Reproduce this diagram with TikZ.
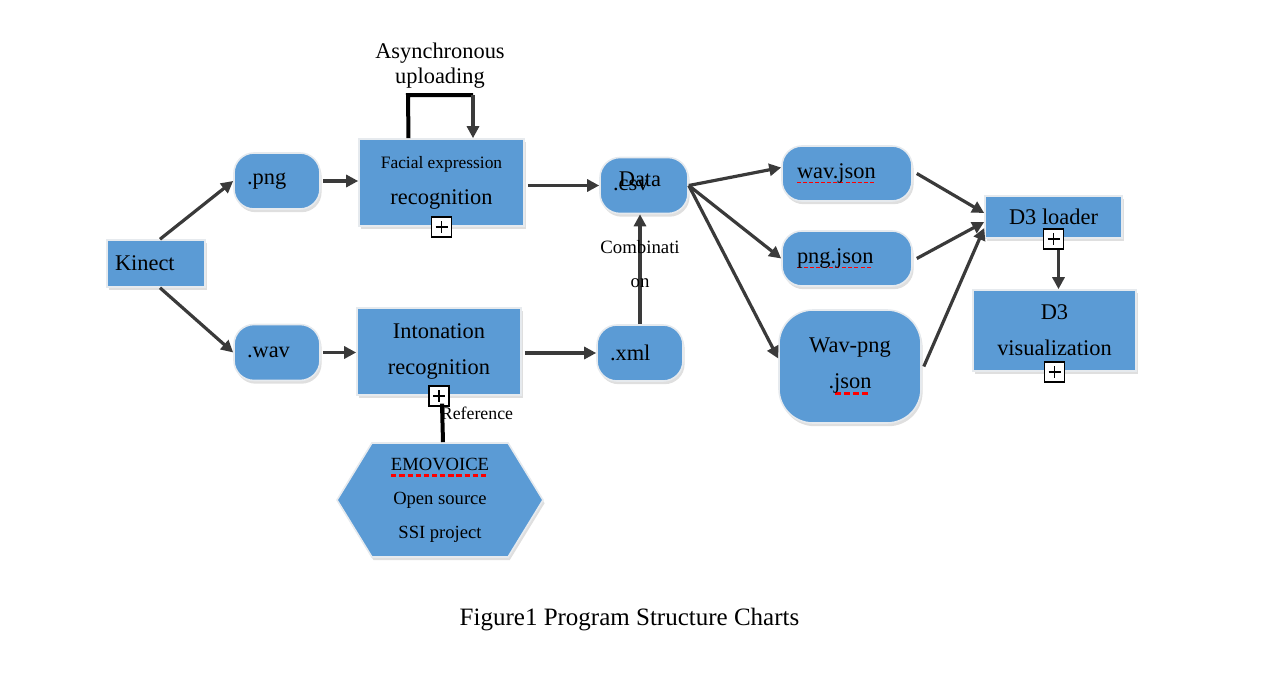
\documentclass[tikz,border=0pt]{standalone}
\usepackage{fontspec}
\setmainfont{Liberation Serif}
\usepackage{tikz}
\usetikzlibrary{arrows.meta,shapes.symbols,shadows,positioning}
\usepackage{xcolor}

\definecolor{boxblue}{HTML}{5B9BD5}
\definecolor{linegray}{HTML}{3A3A3A}
\definecolor{edgewhite}{HTML}{E6EAEE}

% red spell-check marks
\newsavebox\spellbox
\newcommand\spellthin[1]{\sbox\spellbox{#1}\rlap{\color{red}\hbox to\wd\spellbox{\xleaders\hbox{\rule[-2.4pt]{2pt}{0.9pt}\kern1pt}\hfill}}\usebox\spellbox}
\newcommand\spellthick[1]{\sbox\spellbox{#1}\rlap{\color{red}\hbox to\wd\spellbox{\xleaders\hbox{\rule[-3.2pt]{2.6pt}{1.4pt}\kern1.3pt}\hfill}}\usebox\spellbox}

\tikzset{
	blockbox/.style={rectangle, fill=boxblue, draw=edgewhite, line width=0.8pt,
		drop shadow={opacity=0.25, shadow xshift=0.8pt, shadow yshift=-1.6pt},
		font=\fontsize{11.2}{18}\selectfont, align=center, inner sep=0pt},
	pillbox/.style={blockbox, rounded corners=10pt, minimum height=28pt, align=left},
	hexbox/.style={blockbox, signal, signal to=east and west, signal pointer angle=117,
		minimum width=103pt, minimum height=57pt, font=\fontsize{9.3}{17}\selectfont},
	expander/.style={draw=black, fill=white, line width=0.8pt, minimum size=10pt, inner sep=0pt,
		path picture={\draw[line width=0.9pt]
			([xshift=2pt]path picture bounding box.west) -- ([xshift=-2pt]path picture bounding box.east)
			([yshift=2pt]path picture bounding box.south) -- ([yshift=-2pt]path picture bounding box.north);}},
	flow/.style={draw=linegray, line width=1.6pt, -{Triangle[length=6pt,width=6pt]}},
	thickline/.style={draw=black, line width=2pt},
}

\begin{document}
\begin{tikzpicture}[x=0.5pt, y=-0.5pt]
	\useasboundingbox (0,0) rectangle (1266,680);
	% Define nodes
	\node[blockbox, minimum width=49pt, minimum height=23.5pt, text width=41pt, align=left] (kinect) at (156,263.5) {Kinect};
	\node[pillbox, minimum width=43pt, text width=30pt] (png) at (277,181) {.png};
	\node[pillbox, minimum width=43pt, text width=30pt] (wav) at (277,352.5) {.wav};
	\node[blockbox, minimum width=82.5pt, minimum height=43.5pt] (facial) at (441.5,182.5) {{\fontsize{8.7}{10}\selectfont Facial expression}\\recognition};
	\node[blockbox, minimum width=82pt, minimum height=43.5pt] (inton) at (439,351.5) {Intonation\\recognition};
	\node[pillbox, minimum width=44pt, text width=31pt,
		label={[font=\fontsize{11.2}{13}\selectfont, xshift=-2pt, yshift=3pt]center:Data}] (data) at (644,185.5) {.csv};
	\node[pillbox, minimum width=43pt, text width=30pt] (xml) at (640,353) {.xml};
	\node[pillbox, minimum width=65pt, text width=50pt, minimum height=27.5pt] (wavjson) at (847,173.5) {\spellthin{wav.json}};
	\node[pillbox, minimum width=65pt, text width=50pt, minimum height=27.5pt] (pngjson) at (847,258.5) {\spellthin{png.json}};
	\node[blockbox, rounded corners=17pt, minimum width=71pt, minimum height=56.5pt] (wavpng) at (850,366.5) {Wav-png\\.\spellthick{json}};
	\node[blockbox, minimum width=68.5pt, minimum height=21pt] (loader) at (1053.5,217) {D3 loader};
	\node[blockbox, minimum width=81.5pt, minimum height=40.5pt] (vis) at (1054.5,330.5) {D3\\visualization};
	\node[hexbox] (emo) at (440,500) {\spellthick{EMOVOICE}\\Open source\\SSI project};
	\node[expander] (facialplus) at (facial.south) {};
	\node[expander] (intonplus) at (inton.south) {};
	\node[expander] (loaderplus) at (loader.south) {};
	\node[expander] (visplus) at (vis.south) {};
	\node[font=\fontsize{11.2}{12.5}\selectfont, align=center] (async) at (440,66) {Asynchronous\\uploading};
	\node[font=\fontsize{8.9}{10}\selectfont] (ref) at (477,413) {Reference};
	\node[font=\fontsize{12.5}{15}\selectfont] (caption) at (629.5,620) {Figure1 Program Structure Charts};
	\coordinate (asyncL) at (408,95);
	\coordinate (asyncR) at (473,95);
	% Connect the nodes
	\draw[flow] ([xshift=2pt]kinect.north) -- (png.west);
	\draw[flow] ([xshift=2pt]kinect.south) -- (wav.west);
	\draw[flow] ([xshift=1pt]png.east) -- (png.east -| facial.west);
	\draw[flow] ([xshift=1pt]wav.east) -- (wav.east -| inton.west);
	\draw[flow] ([xshift=1.5pt]facial.east |- data.west) -- (data.west);
	\draw[flow] ([xshift=1.5pt]inton.east |- xml.west) -- (xml.west);
	\draw[flow] (xml.north) -- node[pos=0.55, font=\fontsize{9.4}{17}\selectfont, align=center] (comb) {Combinati\\on} (xml.north |- data.south);
	\draw[flow] (data.east) -- ([yshift=3pt]wavjson.west);
	\draw[flow] (data.east) -- (pngjson.west);
	\draw[flow] (data.east) -- ([yshift=4pt]wavpng.west);
	\draw[flow] ([xshift=2pt]wavjson.east) -- ([yshift=2pt]loader.west);
	\draw[flow] ([xshift=2pt]pngjson.east) -- ([yshift=-2.5pt]loader.west);
	\draw[flow] ([xshift=1pt]wavpng.east) -- ([yshift=-5.5pt]loader.west);
	\draw[flow] ([xshift=2.5pt]loaderplus.south) -- ([xshift=2.5pt]loaderplus.south |- vis.north);
	\draw[thickline] ([xshift=-16.5pt]facial.north) -- (asyncL) -- (asyncR);
	\draw[flow] (asyncR) -- (asyncR |- facial.north);
	\draw[thickline] ([xshift=1.5pt]emo.north) -- ([xshift=1.5pt,yshift=1.5pt]intonplus.south);
\end{tikzpicture}
\end{document}
